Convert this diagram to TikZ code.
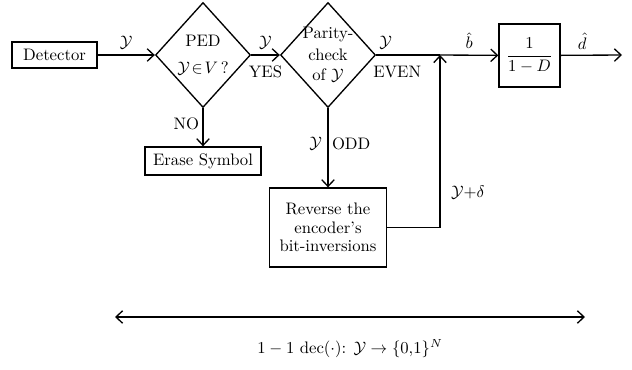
\documentclass[tikz,border=0pt]{standalone}
\usepackage{amsmath}
\usepackage{amssymb}
\usetikzlibrary{arrows.meta, positioning, shapes.geometric}
\newcommand{\Ys}{\mathcal{Y}}

\begin{document}
\begin{tikzpicture}[
    x=0.6pt, y=-0.6pt,
    >={Straight Barb[length=4pt, width=7.5pt]},
    every node/.style={font=\normalsize},
    box/.style  ={draw, line width=0.8pt, align=center, inner sep=1pt},
    test/.style ={draw, diamond, line width=0.8pt, align=center,
                  inner sep=-12pt, minimum width=57pt, minimum height=63pt},
    flow/.style ={->, line width=0.8pt},
    line/.style ={line width=0.8pt},
    lbl/.style  ={inner sep=2pt},
]
\useasboundingbox (0,0) rectangle (632,369);
\node[box, minimum width=51pt, minimum height=15.6pt] (det) at (54.5,55) {Detector};
\node[test] (ped) at (203,55) {PED\\[4pt] $\Ys\!\in\! V\,$?};
\node[test] (par) at (328,55) {\\[-6pt] Parity-\\[1pt] check\\[0pt] of $\Ys$};
\node[box, minimum width=36.6pt, minimum height=37.8pt] (filt) at (529.5,55.5)
     {$\dfrac{1}{1-D}$};
\node[box, minimum width=69.6pt, minimum height=16.8pt] (erase) at (203,161)
     {Erase Symbol};
\node[box, minimum width=70.2pt, minimum height=47.4pt] (rev) at (328,227.5)
     {Reverse the\\[-1pt] encoder's\\[-1pt] bit-inversions};
\coordinate (jn)  at (440,55);
\coordinate (out) at (622,55);
\coordinate (dl)  at (115,317);
\coordinate (dr)  at (585,317);
\draw[flow] (det)  -- node[above]{$\Ys$} (ped);
\draw[flow] (ped)  -- node[above]{$\Ys$} node[lbl, below=4pt]{YES} (par);
\draw[line] (par.east) -- node[pos=0.15, above]{$\Ys$}
            node[lbl, pos=0.33, below=4pt]{EVEN} (jn);
\draw[flow] (jn)   -- node[above]{$\hat{b}$} (filt);
\draw[flow] (filt) -- node[pos=0.35, above]{$\hat{d}$} (out);
\draw[flow] (ped)  -- node[lbl, pos=0.4, left]{NO} (erase);
\draw[flow] (par)  -- node[pos=0.45, left]{$\Ys$}
            node[lbl, pos=0.45, right]{ODD} (rev);
\draw[flow] (rev.east) -| node[pos=0.6, right=3pt]{$\Ys{+}\delta$} (jn);
\draw[<->, line] (dl) -- node[below=10pt]{$1-1$ dec$(\cdot)$: $\Ys\rightarrow\{0{,}1\}^N$} (dr);
\end{tikzpicture}
\end{document}
